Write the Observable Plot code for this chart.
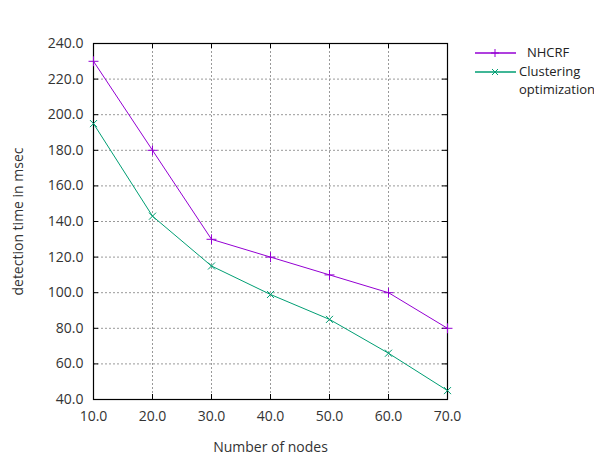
<!DOCTYPE html>
<html>
<head>
<meta charset="utf-8">
<script src="https://cdn.jsdelivr.net/npm/d3@7"></script>
<script src="https://cdn.jsdelivr.net/npm/@observablehq/plot@0.6"></script>
<style>
  body { margin: 0; background: #fff; }
  #wrap { position: relative; width: 594px; height: 456px; font-family: "Open Sans", sans-serif; color: #333; }
  #title { position: absolute; left: 0; width: 540px; top: 4px; text-align: center; font-size: 14px; }
  .leg { position: absolute; font-size: 13px; color: #222; line-height: 18px; }
  svg.sw { position: absolute; overflow: visible; }
</style>
</head>
<body>
<div id="wrap">
  <div id="title">Detection time</div>
</div>
<script>
const nodes = [10, 20, 30, 40, 50, 60, 70];
const nhcrf = [230, 180, 130, 120, 110, 100, 80];
const clustering = [195, 143, 115, 99, 85, 66, 45];
const seriesNames = ["NHCRF", "Clustering optimization"];
const seriesColors = ["#9400d3", "#009e73"];
const xTicks = [10, 20, 30, 40, 50, 60, 70];
const yTicks = [40, 60, 80, 100, 120, 140, 160, 180, 200, 220, 240];

const data = [];
nodes.forEach((n, i) => {
  data.push({x: n, y: nhcrf[i], s: seriesNames[0]});
  data.push({x: n, y: clustering[i], s: seriesNames[1]});
});

const W = 594, H = 456;
const mL = 93, mR = 147, mT = 43, mB = 57;
const pw = W - mL - mR, ph = H - mT - mB;
const fmt = d3.format(".1f");

const chart = Plot.plot({
  width: W, height: H,
  marginLeft: mL, marginRight: mR, marginTop: mT, marginBottom: mB,
  style: {fontFamily: "Open Sans, sans-serif", fontSize: "14px", color: "#333", background: "#fff"},
  x: {domain: [10, 70]},
  y: {domain: [40, 240]},
  color: {domain: seriesNames, range: seriesColors},
  marks: [
    Plot.gridX(xTicks.slice(1, -1), {stroke: "#999", strokeOpacity: 1, strokeDasharray: "2,2"}),
    Plot.gridY(yTicks.slice(1, -1), {stroke: "#999", strokeOpacity: 1, strokeDasharray: "2,2"}),
    Plot.tickY(yTicks, {y: d => d, insetLeft: pw - 5, stroke: "#000"}),
    Plot.tickY(yTicks, {y: d => d, insetRight: pw - 5, stroke: "#000"}),
    Plot.tickX(xTicks, {x: d => d, insetTop: ph - 5, stroke: "#000"}),
    Plot.tickX(xTicks, {x: d => d, insetBottom: ph - 5, stroke: "#000"}),
    Plot.frame({stroke: "#000", strokeWidth: 1.2}),
    Plot.axisX({ticks: xTicks, tickSize: 0, tickPadding: 12, tickFormat: fmt, fontSize: 14,
      label: "Number of nodes", labelAnchor: "center", labelArrow: "none", labelOffset: 52}),
    Plot.axisY({ticks: yTicks, tickSize: 0, tickPadding: 10, tickFormat: fmt, fontSize: 14,
      label: "detection time in msec", labelAnchor: "center", labelArrow: "none", labelOffset: 80}),
    Plot.line(data, {x: "x", y: "y", z: "s", stroke: "s", strokeWidth: 1}),
    Plot.dot(data, {x: "x", y: "y", stroke: "s", fill: "none", r: 3.3, strokeWidth: 1,
      symbol: d => d.s === seriesNames[0] ? "plus" : "times"})
  ]
});
const wrap = document.getElementById("wrap");
chart.style.position = "absolute";
chart.style.left = "0";
chart.style.top = "0";
wrap.appendChild(chart);

// legend
const legendItems = [
  {name: ["NHCRF"], color: seriesColors[0], sym: "plus", top: 44, textLeft: 527},
  {name: ["Clustering", "optimization"], color: seriesColors[1], sym: "times", top: 63, textLeft: 519}
];
legendItems.forEach(it => {
  const sw = document.createElementNS("http://www.w3.org/2000/svg", "svg");
  sw.setAttribute("class", "sw");
  sw.setAttribute("width", 42); sw.setAttribute("height", 18);
  sw.style.left = "475px"; sw.style.top = it.top + "px";
  let inner = `<line x1="0" x2="41" y1="9" y2="9" stroke="${it.color}" stroke-width="1.5"/>`;
  if (it.sym === "plus") inner += `<path d="M20,5V13M16,9H24" stroke="${it.color}" fill="none"/>`;
  else inner += `<path d="M17,6L23,12M23,6L17,12" stroke="${it.color}" fill="none"/>`;
  sw.innerHTML = inner;
  wrap.appendChild(sw);
  const t = document.createElement("div");
  t.className = "leg";
  t.style.left = it.textLeft + "px";
  t.style.top = (it.top - 1) + "px";
  t.innerHTML = it.name.join("<br>");
  wrap.appendChild(t);
});
</script>
</body>
</html>
